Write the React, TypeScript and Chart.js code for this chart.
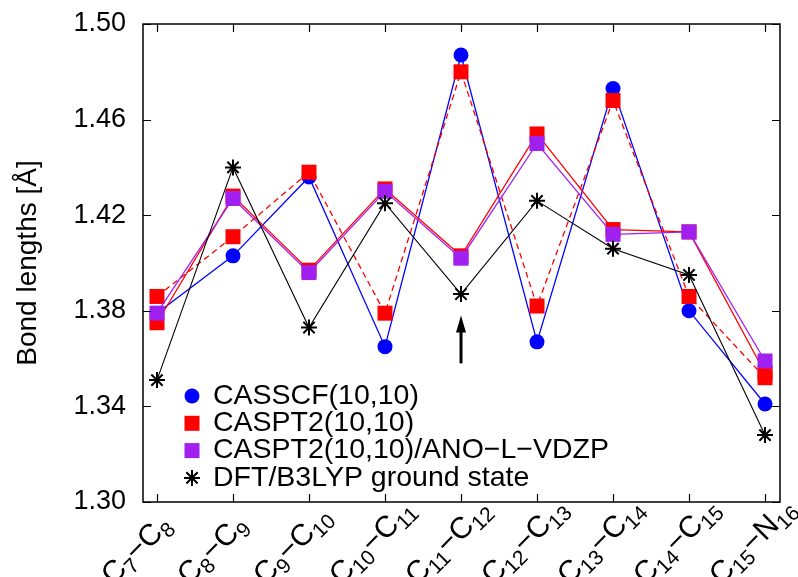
import React, { useEffect, useRef } from 'react';
import { Chart, registerables } from 'chart.js';

Chart.register(...registerables);

// ---------------- data ----------------
const bondLabels = [
  'C_7−C_8',
  'C_8−C_9',
  'C_9−C_{10}',
  'C_{10}−C_{11}',
  'C_{11}−C_{12}',
  'C_{12}−C_{13}',
  'C_{13}−C_{14}',
  'C_{14}−C_{15}',
  'C_{15}−N_{16}',
];
const casscf = [1.379, 1.403, 1.436, 1.365, 1.487, 1.367, 1.473, 1.380, 1.341];
const caspt2Dashed = [1.386, 1.411, 1.438, 1.379, 1.480, 1.382, 1.468, 1.386, 1.352];
const caspt2Solid = [1.375, 1.428, 1.397, 1.431, 1.403, 1.454, 1.414, 1.413, 1.354];
const caspt2Ano = [1.379, 1.427, 1.396, 1.430, 1.402, 1.450, 1.412, 1.413, 1.359];
const dftB3lyp = [1.351, 1.440, 1.373, 1.425, 1.387, 1.426, 1.406, 1.395, 1.328];
const yTicks = [1.30, 1.34, 1.38, 1.42, 1.46, 1.50];
const legendLabels = [
  'CASSCF(10,10)',
  'CASPT2(10,10)',
  'CASPT2(10,10)/ANO−L−VDZP',
  'DFT/B3LYP ground state',
];
const yTitle = 'Bond lengths [Å]';
// arrow annotation (category index, from value, to value)
const arrowIndex = 4;
const arrowFrom = 1.358;
const arrowTo = 1.378;

const FONT = '"Liberation Sans", Arial, Helvetica, sans-serif';
const BLUE = '#0000ff';
const RED = '#ff0000';
const PURPLE = '#a020f0';
const BLACK = '#000000';

function parseLabel(s: string) {
  const parts: { t: string; sub: boolean }[] = [];
  let buf = '';
  let i = 0;
  while (i < s.length) {
    const ch = s[i];
    if (ch === '_') {
      if (buf) { parts.push({ t: buf, sub: false }); buf = ''; }
      if (s[i + 1] === '{') {
        const end = s.indexOf('}', i + 2);
        parts.push({ t: s.slice(i + 2, end), sub: true });
        i = end + 1;
      } else {
        parts.push({ t: s[i + 1], sub: true });
        i += 2;
      }
    } else {
      buf += ch;
      i++;
    }
  }
  if (buf) parts.push({ t: buf, sub: false });
  return parts;
}

function drawSymbol(ctx: CanvasRenderingContext2D, kind: string, color: string, cx: number, cy: number) {
  ctx.save();
  if (kind === 'circle') {
    ctx.fillStyle = color;
    ctx.beginPath();
    ctx.arc(cx, cy, 7.5, 0, Math.PI * 2);
    ctx.fill();
  } else if (kind === 'rect') {
    ctx.fillStyle = color;
    ctx.fillRect(cx - 7.5, cy - 7.5, 15, 15);
  } else {
    ctx.strokeStyle = color;
    ctx.lineWidth = 2;
    const r = 8;
    const d = r * Math.SQRT1_2;
    ctx.beginPath();
    ctx.moveTo(cx - r, cy); ctx.lineTo(cx + r, cy);
    ctx.moveTo(cx, cy - r); ctx.lineTo(cx, cy + r);
    ctx.moveTo(cx - d, cy - d); ctx.lineTo(cx + d, cy + d);
    ctx.moveTo(cx - d, cy + d); ctx.lineTo(cx + d, cy - d);
    ctx.stroke();
  }
  ctx.restore();
}

const decorPlugin = {
  id: 'decor',
  afterDatasetsDraw(chart: any) {
    const { ctx, chartArea } = chart;
    const { left, right, top, bottom } = chartArea;
    const x = chart.scales.x;
    const y = chart.scales.y;
    ctx.save();

    // frame
    ctx.strokeStyle = BLACK;
    ctx.lineWidth = 1.5;
    ctx.strokeRect(left, top, right - left, bottom - top);

    // inward ticks
    ctx.lineWidth = 1.2;
    ctx.beginPath();
    bondLabels.forEach((_, i) => {
      const px = Math.round(x.getPixelForValue(i)) + 0.5;
      ctx.moveTo(px, bottom); ctx.lineTo(px, bottom - 8);
      ctx.moveTo(px, top); ctx.lineTo(px, top + 8);
    });
    yTicks.forEach((v) => {
      const py = Math.round(y.getPixelForValue(v)) + 0.5;
      ctx.moveTo(left, py); ctx.lineTo(left + 8, py);
      ctx.moveTo(right, py); ctx.lineTo(right - 8, py);
    });
    ctx.stroke();

    // arrow
    const ax = x.getPixelForValue(arrowIndex);
    const ay0 = y.getPixelForValue(arrowFrom);
    const ay1 = y.getPixelForValue(arrowTo);
    ctx.strokeStyle = BLACK;
    ctx.fillStyle = BLACK;
    ctx.lineWidth = 3;
    ctx.beginPath();
    ctx.moveTo(ax, ay0);
    ctx.lineTo(ax, ay1 + 12);
    ctx.stroke();
    ctx.beginPath();
    ctx.moveTo(ax, ay1);
    ctx.lineTo(ax - 5, ay1 + 17);
    ctx.lineTo(ax + 5, ay1 + 17);
    ctx.closePath();
    ctx.fill();

    // legend
    const kinds = ['circle', 'rect', 'rect', 'star'];
    const colors = [BLUE, RED, PURPLE, BLACK];
    ctx.font = `28.5px ${FONT}`;
    ctx.textAlign = 'left';
    ctx.textBaseline = 'middle';
    legendLabels.forEach((lab, k) => {
      const cy = bottom - 106 + k * 27.3;
      drawSymbol(ctx, kinds[k], colors[k], left + 49, cy);
      ctx.fillStyle = BLACK;
      ctx.fillText(lab, left + 70, cy);
    });

    // rotated x labels with subscripts
    const F = 30;
    const S = 21;
    bondLabels.forEach((lab, i) => {
      const px = x.getPixelForValue(i);
      const parts = parseLabel(lab);
      ctx.save();
      ctx.translate(px - 44, bottom + 84);
      ctx.rotate(-Math.PI / 4);
      ctx.textAlign = 'left';
      ctx.textBaseline = 'alphabetic';
      ctx.fillStyle = BLACK;
      let cx = 0;
      for (const p of parts) {
        ctx.font = `${p.sub ? S : F}px ${FONT}`;
        ctx.fillText(p.t, cx, p.sub ? 6 : 0);
        cx += ctx.measureText(p.t).width;
      }
      ctx.restore();
    });

    ctx.restore();
  },
};

function toXY(vals: number[]) {
  return vals.map((v, i) => ({ x: i, y: v }));
}

export default function App() {
  const canvasRef = useRef<HTMLCanvasElement | null>(null);

  useEffect(() => {
    const canvas = canvasRef.current;
    if (!canvas) return;
    const chart = new Chart(canvas, {
      type: 'line',
      data: {
        datasets: [
          {
            label: legendLabels[3],
            data: toXY(dftB3lyp),
            borderColor: BLACK,
            borderWidth: 1.1,
            pointStyle: 'star',
            pointRadius: 8,
            pointBorderWidth: 2,
            pointBorderColor: BLACK,
            pointBackgroundColor: BLACK,
            order: 0,
          },
          {
            label: legendLabels[2],
            data: toXY(caspt2Ano),
            borderColor: PURPLE,
            borderWidth: 1.3,
            pointStyle: 'rect',
            pointRadius: 10.6,
            pointBorderWidth: 0,
            pointBackgroundColor: PURPLE,
            order: 1,
          },
          {
            label: legendLabels[1],
            data: toXY(caspt2Solid),
            borderColor: RED,
            borderWidth: 1.3,
            pointStyle: 'rect',
            pointRadius: 10.6,
            pointBorderWidth: 0,
            pointBackgroundColor: RED,
            order: 2,
          },
          {
            label: legendLabels[1] + ' ',
            data: toXY(caspt2Dashed),
            borderColor: RED,
            borderWidth: 1.3,
            borderDash: [6, 4],
            pointStyle: 'rect',
            pointRadius: 10.6,
            pointBorderWidth: 0,
            pointBackgroundColor: RED,
            order: 3,
          },
          {
            label: legendLabels[0],
            data: toXY(casscf),
            borderColor: BLUE,
            borderWidth: 1.3,
            pointStyle: 'circle',
            pointRadius: 7.5,
            pointBorderWidth: 0,
            pointBackgroundColor: BLUE,
            order: 4,
          },
        ],
      },
      options: {
        animation: false,
        responsive: false,
        events: [],
        layout: { padding: { top: 24, right: 18, bottom: 75, left: 0 } },
        plugins: {
          legend: { display: false },
          tooltip: { enabled: false },
        },
        scales: {
          x: {
            type: 'linear',
            display: false,
            min: -0.184,
            max: 8.197,
          },
          y: {
            type: 'linear',
            min: 1.30,
            max: 1.50,
            grid: { display: false, drawTicks: false },
            border: { display: false },
            afterFit: (scale: any) => {
              scale.width = 143;
              scale.paddingTop = 0;
              scale.paddingBottom = 0;
            },
            afterBuildTicks: (scale: any) => {
              scale.ticks = yTicks.map((v) => ({ value: v }));
            },
            ticks: {
              padding: 17,
              color: BLACK,
              font: { family: FONT, size: 27 },
              callback: (v: any) => Number(v).toFixed(2),
            },
            title: {
              display: true,
              text: yTitle,
              color: BLACK,
              font: { family: FONT, size: 28 },
              padding: { top: 11, bottom: 0 },
            },
          },
        },
      },
      plugins: [decorPlugin],
    } as any);
    return () => chart.destroy();
  }, []);

  return (
    <div style={{ position: 'fixed', left: 0, top: 0, width: 798, height: 577, background: '#fff' }}>
      <canvas ref={canvasRef} width={798} height={577} style={{ display: 'block' }} />
    </div>
  );
}
